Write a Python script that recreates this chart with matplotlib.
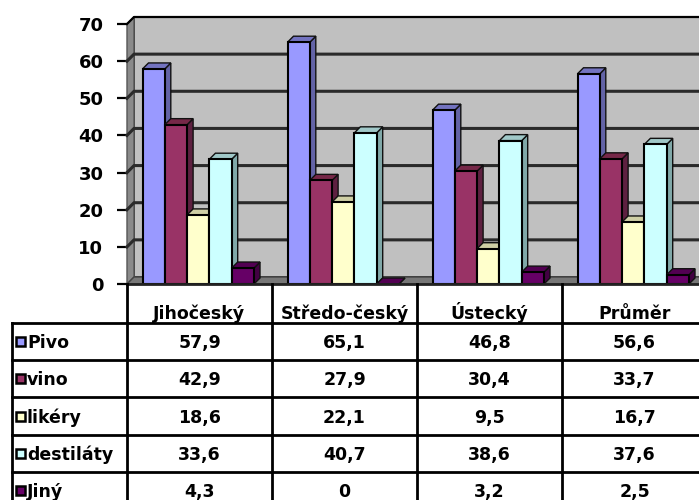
import matplotlib.pyplot as plt
from matplotlib.patches import Polygon, Rectangle

plt.rcParams['font.family'] = ['DejaVu Sans']

# ─── data ────────────────────────────────────────────────────────────────────
CATEGORIES = ["Jihočeský", "Středo-český", "Ústecký", "Průměr"]
SERIES = ["Pivo", "vino", "likéry", "destiláty", "Jiný"]
PIVO = [57.9, 65.1, 46.8, 56.6]
VINO = [42.9, 27.9, 30.4, 33.7]
LIKERY = [18.6, 22.1, 9.5, 16.7]
DESTILATY = [33.6, 40.7, 38.6, 37.6]
JINY = [4.3, 0, 3.2, 2.5]
Y_TICKS = [0, 10, 20, 30, 40, 50, 60, 70]

VALUES = [PIVO, VINO, LIKERY, DESTILATY, JINY]

# front / side / top face colours per series
FRONT = ["#9999FF", "#993366", "#FFFFCC", "#CCFFFF", "#660066"]
SIDE = ["#6363A6", "#5E2040", "#A6A685", "#80A8A8", "#420042"]
TOP = ["#7373C0", "#762848", "#CFCFA5", "#A0C8C8", "#520052"]

WALL = "#C0C0C0"
SIDE_WALL = "#8A8A8A"
FLOOR = "#777777"
GRID = "#2A2A2A"

# ─── layout (pixels on a 699x500 canvas) ─────────────────────────────────────
W, H = 699, 500
AX_L, AX_B, AX_T = 127, 284, 24          # plot front frame
CAT_PX = 145                            # width of one category
X_PER_PX = 1 / CAT_PX
Y_PER_PX = 70 / (AX_B - AX_T)

WALL_DX, WALL_DY = 7 * X_PER_PX, 7 * Y_PER_PX
BAR_DX, BAR_DY = 6 * X_PER_PX, 6 * Y_PER_PX
BAR_OFF = 15.5 * X_PER_PX
BAR_W = 22.3 * X_PER_PX

ROW_PX = 37.2
HEADER_ROWS = 39 / ROW_PX
LABEL_X = (12 - AX_L) * X_PER_PX
FS = 12.5

fig = plt.figure(figsize=(W / 100, H / 100), dpi=100)
fig.patch.set_facecolor("white")

n_cat = len(CATEGORIES)
ax_w = n_cat * CAT_PX
ax = fig.add_axes([AX_L / W, (H - AX_B) / H, ax_w / W, (AX_B - AX_T) / H])
ax.set_xlim(0, n_cat)
ax.set_ylim(0, 70)
for s in ax.spines.values():
    s.set_visible(False)
ax.set_xticks([])
ax.set_yticks(Y_TICKS)
ax.set_yticklabels([str(t) for t in Y_TICKS], fontsize=13, fontweight="bold")
ax.tick_params(axis="y", length=7, width=1.6, pad=10, colors="black")
ax.patch.set_visible(False)

# walls and floor
top = Y_TICKS[-1]
ax.add_patch(Polygon([(WALL_DX, WALL_DY), (n_cat + WALL_DX, WALL_DY),
                      (n_cat + WALL_DX, top + WALL_DY), (WALL_DX, top + WALL_DY)],
                     closed=True, fc=WALL, ec="#222222", lw=1.2, clip_on=False, zorder=1))
ax.add_patch(Polygon([(0, 0), (WALL_DX, WALL_DY), (WALL_DX, top + WALL_DY), (0, top)],
                     closed=True, fc=SIDE_WALL, ec="#555555", lw=1.0, clip_on=False, zorder=1))
ax.add_patch(Polygon([(0, 0), (n_cat, 0), (n_cat + WALL_DX, WALL_DY), (WALL_DX, WALL_DY)],
                     closed=True, fc=FLOOR, ec="#444444", lw=1.0, clip_on=False, zorder=1))
for t in Y_TICKS[1:-1]:
    ax.plot([0, WALL_DX, n_cat + WALL_DX], [t, t + WALL_DY, t + WALL_DY],
            color=GRID, lw=2.2, clip_on=False, zorder=2)
ax.plot([0, WALL_DX, n_cat + WALL_DX], [top, top + WALL_DY, top + WALL_DY],
        color="black", lw=1.6, clip_on=False, zorder=2)
ax.plot([0, n_cat], [0, 0], color="#222222", lw=2.0, clip_on=False, zorder=6)

# 3D columns
for i in range(n_cat):
    for j, vals in enumerate(VALUES):
        v = vals[i]
        x0 = i + BAR_OFF + j * BAR_W
        x1 = x0 + BAR_W
        ax.add_patch(Polygon([(x1, 0), (x1 + BAR_DX, BAR_DY), (x1 + BAR_DX, v + BAR_DY), (x1, v)],
                             closed=True, fc=SIDE[j], ec="#111111", lw=1.0, zorder=3 + j * 0.01))
        ax.add_patch(Polygon([(x0, v), (x1, v), (x1 + BAR_DX, v + BAR_DY), (x0 + BAR_DX, v + BAR_DY)],
                             closed=True, fc=TOP[j], ec="#111111", lw=1.0, zorder=3 + j * 0.01))
        if v > 0:
            ax.add_patch(Rectangle((x0, 0), BAR_W, v, fc=FRONT[j], ec="black",
                                   lw=1.5, zorder=3.005 + j * 0.01))

# ─── data table ──────────────────────────────────────────────────────────────
n_rows = len(SERIES)
tab_bottom = HEADER_ROWS + n_rows
tab_h = tab_bottom * ROW_PX
tax = fig.add_axes([AX_L / W, (H - AX_B - tab_h) / H, ax_w / W, tab_h / H])
tax.set_xlim(0, n_cat)
tax.set_ylim(tab_bottom, 0)
tax.axis("off")

LINE = dict(color="black", lw=2.0, clip_on=False)
for c in range(n_cat + 1):
    tax.plot([c, c], [0, tab_bottom], **LINE)
tax.plot([LABEL_X, LABEL_X], [HEADER_ROWS, tab_bottom], **LINE)
for r in range(n_rows + 1):
    tax.plot([LABEL_X, n_cat], [HEADER_ROWS + r, HEADER_ROWS + r], **LINE)

for i, name in enumerate(CATEGORIES):
    tax.text(i + 0.5, HEADER_ROWS - 0.1, name, ha="center", va="baseline",
             fontsize=FS, fontweight="bold")

sq_w = 9 * X_PER_PX
sq_h = 9 / ROW_PX
for r, (name, vals) in enumerate(zip(SERIES, VALUES)):
    yc = HEADER_ROWS + r + 0.5
    yb = HEADER_ROWS + r + 0.68
    tax.add_patch(Rectangle((LABEL_X + 4 * X_PER_PX, yc - sq_h / 2), sq_w, sq_h,
                            fc=FRONT[r], ec="black", lw=1.8, clip_on=False))
    tax.text(LABEL_X + 15 * X_PER_PX, yb, name, ha="left", va="baseline",
             fontsize=FS, fontweight="bold", clip_on=False)
    for i, v in enumerate(vals):
        label = f"{v:g}".replace(".", ",")
        tax.text(i + 0.5, yb, label, ha="center", va="baseline",
                 fontsize=FS, fontweight="bold")

fig.savefig("out.png", dpi=100)
